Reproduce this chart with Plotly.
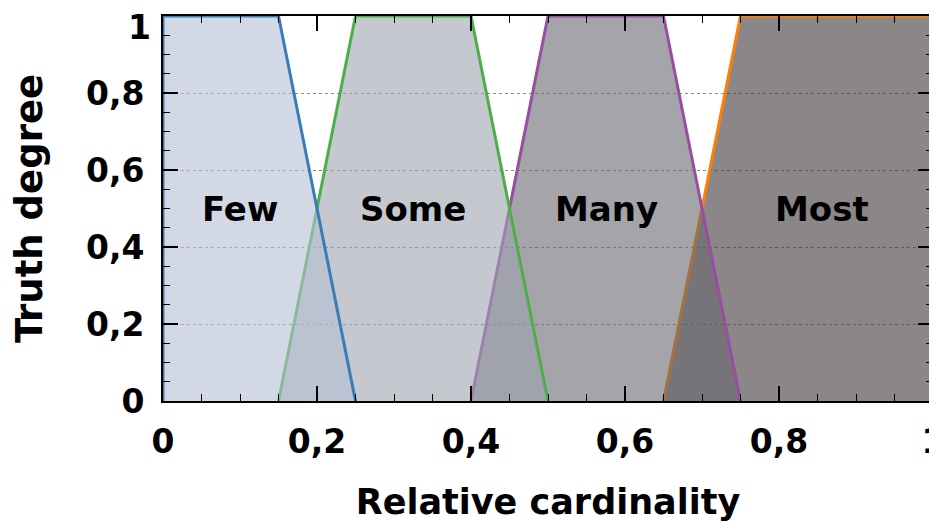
import plotly.graph_objects as go

# Fuzzy quantifier membership functions (trapezoids)
few_x = [0, 0, 0.15, 0.25]
few_y = [0, 1, 1, 0]
some_x = [0.15, 0.25, 0.40, 0.50]
some_y = [0, 1, 1, 0]
many_x = [0.40, 0.50, 0.65, 0.75]
many_y = [0, 1, 1, 0]
most_x = [0.65, 0.75, 1, 1]
most_y = [0, 1, 1, 0]

labels = ["Few", "Some", "Many", "Most"]
label_x = [0.10, 0.325, 0.576, 0.856]
label_y = [0.5, 0.5, 0.5, 0.5]

x_tick_vals = [0, 0.2, 0.4, 0.6, 0.8, 1]
x_tick_text = ["0", "0,2", "0,4", "0,6", "0,8", "1"]
y_tick_vals = [0, 0.2, 0.4, 0.6, 0.8]
y_tick_text = ["0", "0,2", "0,4", "0,6", "0,8"]
y_top_val = 1
y_top_text = "1"

FONT = "DejaVu Sans"
TICKFONT = dict(family=FONT, size=33, color="black", weight="bold")

series = [
    ("Most", most_x, most_y, "#ff7f00", "rgba(62,55,57,0.6)"),
    ("Many", many_x, many_y, "#984ea3", "rgba(105,103,110,0.6)"),
    ("Some", some_x, some_y, "#4daf4a", "rgba(158,163,175,0.6)"),
    ("Few", few_x, few_y, "#377eb8", "rgba(180,192,212,0.6)"),
]

fig = go.Figure()
for name, xs, ys, lc, fc in series:
    fig.add_trace(go.Scatter(
        x=xs, y=ys, mode="lines", name=name,
        fill="toself", fillcolor=fc,
        line=dict(color=lc, width=3),
        hoverinfo="skip", showlegend=False,
    ))

for t, x, y in zip(labels, label_x, label_y):
    fig.add_annotation(x=x, y=y, text=t, showarrow=False,
                       xanchor="center", yanchor="middle",
                       font=dict(family=FONT, size=34, color="black", weight="bold"))

# top y tick label, kept inside the figure like in the original
fig.add_annotation(x=0, xref="paper", y=y_top_val, yref="y", text=y_top_text,
                   showarrow=False, xanchor="right", yanchor="top",
                   xshift=-10, yshift=10, font=TICKFONT)

axis_common = dict(
    range=[0, 1],
    automargin=False,
    showline=True, linecolor="black", linewidth=2,
    mirror="ticks",
    ticks="inside", ticklen=15, tickwidth=1.8, tickcolor="black",
    tickmode="array",
    ticklabeloverflow="allow",
    tickfont=TICKFONT,
    minor=dict(tickmode="linear", tick0=0, dtick=0.05, ticks="inside",
               ticklen=7, tickwidth=1.3, tickcolor="black", showgrid=False),
    zeroline=False,
)

fig.update_xaxes(**axis_common, tickvals=x_tick_vals, ticktext=x_tick_text,
                 showgrid=False, ticklabelstandoff=10,
                 title=dict(text="Relative cardinality", standoff=30,
                            font=dict(family=FONT, size=35, color="black", weight="bold")))
fig.update_yaxes(**axis_common, tickvals=y_tick_vals, ticktext=y_tick_text,
                 showgrid=True, gridcolor="#8a8a8a", gridwidth=1,
                 griddash="dot", ticklabelstandoff=10,
                 title=dict(text="Truth degree", standoff=49,
                            font=dict(family=FONT, size=37, color="black", weight="bold")))

# the page body adds an 8px offset, so the figure is sized to fit the window
fig.update_layout(
    width=929, height=514,
    margin=dict(l=155, r=4, t=8, b=121),
    paper_bgcolor="white", plot_bgcolor="white",
    font=dict(family=FONT, color="black"),
)

fig.write_html("out.html")
